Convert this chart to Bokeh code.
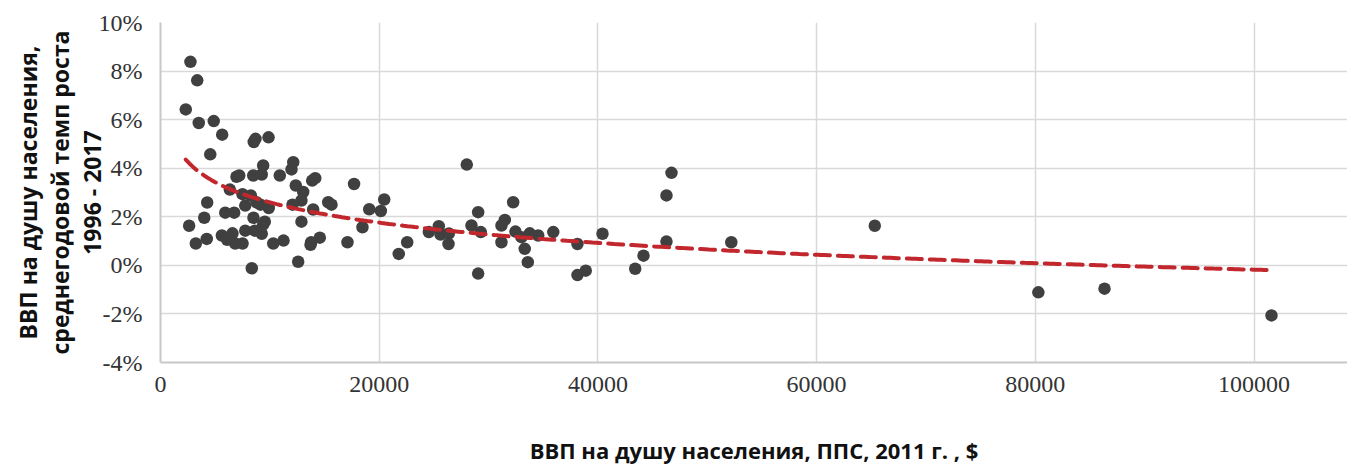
import numpy as np
from bokeh.plotting import figure
from bokeh.models import FixedTicker, PrintfTickFormatter, ColumnDataSource, Range1d
from bokeh.embed import file_html
from bokeh.resources import INLINE

# GDP per capita, PPP 2011, $
gdp_per_capita = [
    2740, 3360, 2310, 3500, 4870, 5640, 4550, 8530, 8690, 9880,
    9390, 12140, 11980, 6950, 7200, 8480, 9260, 10910, 13870, 14150,
    17700, 6340, 7500, 8260, 12370, 13050, 12890, 4270, 7750, 8780,
    9140, 9900, 12070, 13960, 15340, 15640, 4000, 5920, 6740, 8500,
    12890, 2620, 9540, 9390, 4230, 3230, 5610, 6100, 6580, 6830,
    7500, 7750, 8620, 9260, 10310, 11250, 13780, 14570, 17100, 8350,
    12590, 19090, 18470, 20460, 20150, 21790, 22560, 28010, 29050, 28440,
    29290, 29050, 24540, 25450, 25610, 26370, 26340, 32250, 31490, 31180,
    31180, 32460, 33010, 33770, 34540, 33310, 33590, 35920, 38130, 38130,
    38890, 40420, 43410, 44170, 46270, 46730, 46270, 52200, 65320, 80280,
    86330, 101600, 13720,
]
# average annual growth of GDP per capita 1996-2017, %
growth_pct = [
    8.38, 7.62, 6.42, 5.86, 5.94, 5.38, 4.57, 5.08, 5.21, 5.27,
    4.11, 4.25, 3.95, 3.65, 3.70, 3.70, 3.74, 3.70, 3.49, 3.59,
    3.35, 3.12, 2.93, 2.88, 3.29, 3.02, 2.67, 2.59, 2.46, 2.60,
    2.50, 2.36, 2.50, 2.30, 2.60, 2.50, 1.96, 2.17, 2.17, 1.96,
    1.80, 1.63, 1.80, 1.68, 1.09, 0.90, 1.23, 1.05, 1.32, 0.90,
    0.90, 1.43, 1.43, 1.30, 0.90, 1.02, 0.95, 1.14, 0.95, -0.12,
    0.15, 2.31, 1.57, 2.71, 2.24, 0.47, 0.95, 4.15, 2.19, 1.64,
    1.37, -0.34, 1.37, 1.61, 1.27, 1.31, 0.88, 2.60, 1.87, 1.64,
    0.95, 1.39, 1.16, 1.32, 1.23, 0.68, 0.13, 1.37, 0.88, -0.40,
    -0.22, 1.30, -0.14, 0.40, 2.88, 3.81, 0.98, 0.95, 1.63, -1.11,
    -0.96, -2.06, 0.85,
]

x_ticks = [0, 20000, 40000, 60000, 80000, 100000]
y_ticks = [-4, -2, 0, 2, 4, 6, 8, 10]

x_title = "ВВП на душу населения, ППС, 2011 г. , $"
y_title = "ВВП на душу населения,\nсреднегодовой темп роста\n1996 - 2017"

# logarithmic trend line (least squares of growth on ln(GDP))
xa = np.array(gdp_per_capita, dtype=float)
ya = np.array(growth_pct, dtype=float)
b, a = np.polyfit(np.log(xa), ya, 1)
trend_x = np.linspace(xa.min(), xa.max(), 300)
trend_y = a + b * np.log(trend_x)

p = figure(frame_width=1187, frame_height=340,
           x_range=Range1d(0, 108550), y_range=Range1d(-4, 10),
           output_backend="svg", toolbar_location=None,
           min_border_left=160, min_border_right=0,
           min_border_top=22, min_border_bottom=100)
p.outline_line_color = None
p.background_fill_color = "white"
p.border_fill_color = "white"

src = ColumnDataSource(dict(x=gdp_per_capita, y=growth_pct))
p.scatter("x", "y", source=src, size=12.5, fill_color="#404040",
          line_color=None)
p.line(trend_x, trend_y, line_color="#C1272D", line_width=4,
       line_dash="15 8", line_cap="round")

tick_font = "Liberation Sans Narrow"
for ax in (p.xaxis[0], p.yaxis[0]):
    ax.major_tick_line_color = None
    ax.minor_tick_line_color = None
    ax.axis_line_color = "#C8C8C8"
    ax.axis_line_width = 2
    ax.major_label_text_font = tick_font
    ax.major_label_text_font_size = "24px"
    ax.major_label_text_color = "#333333"
    ax.axis_label_text_font = "Open Sans"
    ax.axis_label_text_font_style = "bold"
    ax.axis_label_text_color = "#111111"

p.xaxis[0].ticker = FixedTicker(ticks=x_ticks)
p.xaxis[0].formatter = PrintfTickFormatter(format="%d")
p.xaxis[0].major_label_standoff = 8
p.xaxis[0].axis_label = x_title
p.xaxis[0].axis_label_text_font_size = "22px"
p.xaxis[0].axis_label_standoff = 40

p.yaxis[0].ticker = FixedTicker(ticks=y_ticks)
p.yaxis[0].formatter = PrintfTickFormatter(format="%d%%")
p.yaxis[0].major_label_standoff = 12
p.yaxis[0].axis_label = y_title
p.yaxis[0].axis_label_text_font_size = "23px"
p.yaxis[0].axis_label_standoff = -12
p.yaxis[0].axis_label_text_line_height = 1.0

p.xgrid.ticker = FixedTicker(ticks=x_ticks)
p.ygrid.ticker = FixedTicker(ticks=y_ticks)
p.xgrid.grid_line_color = "#D9D9D9"
p.ygrid.grid_line_color = "#D9D9D9"
p.xgrid.grid_line_width = 1.5
p.ygrid.grid_line_width = 1.5

open("out.html", "w").write(file_html(p, INLINE))
